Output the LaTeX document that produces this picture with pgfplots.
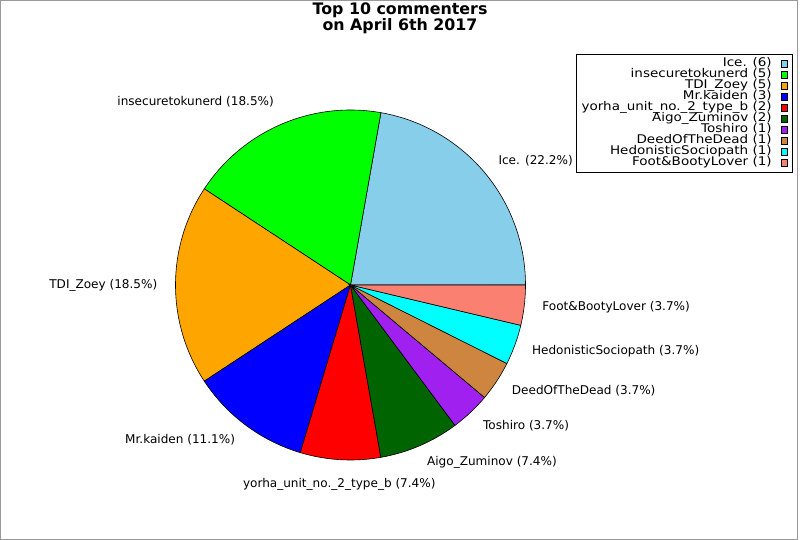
\documentclass[border=0pt]{standalone}
\usepackage{fontspec}
\setmainfont{DejaVu Sans}
\newfontfamily\legfont[FakeStretch=1.13]{DejaVu Sans}
\usepackage{pgfplots}
\pgfplotsset{compat=1.18}
\definecolor{cIce}{HTML}{87CEEB}
\definecolor{cIns}{HTML}{00FF00}
\definecolor{cTDI}{HTML}{FFA500}
\definecolor{cMr}{HTML}{0000FF}
\definecolor{cYor}{HTML}{FF0000}
\definecolor{cAigo}{HTML}{006400}
\definecolor{cTosh}{HTML}{A020F0}
\definecolor{cDeed}{HTML}{CD853F}
\definecolor{cHed}{HTML}{00FFFF}
\definecolor{cFoot}{HTML}{FA8072}
% #1 cumulative count before, #2 count, #3 colour, #4 slice label, #5 legend text, #6 label anchor
\newcommand{\slice}[6]{%
  \addplot[draw=black, line width=0.6bp, fill=#3, domain={360*#1/27}:{360*(#1+#2)/27}, samples=80, variable=\t]
    ({350.5+175*cos(\t)},{255+175*sin(\t)}) -- (axis cs:350.5,255) -- cycle;
  \addlegendentry{#5}
  \node[anchor=#6, inner sep=0pt, font=\fontsize{12.1}{12}\selectfont]
    at (axis cs:{350.5+193*cos(360*(#1+#2/2)/27)},{255+193*sin(360*(#1+#2/2)/27)}) {#4};
}
\begin{document}
\begin{tikzpicture}
\begin{axis}[
  width=800bp, height=540bp, scale only axis,
  xmin=0, xmax=800, ymin=0, ymax=540,
  hide axis, clip=false,
  legend plot pos=right,
  legend cell align=right,
  legend image code/.code={\path (0bp,0bp); \draw[line width=0.5bp] (9.5bp,-3.5bp) rectangle (15.5bp,3.5bp);},
  legend style={at={(0.99125,0.9)}, anchor=north east, draw=black, line width=0.6bp, fill=white,
    inner xsep=5bp, inner ysep=4bp, font=\legfont\fontsize{12}{11}\selectfont,
    nodes={inner sep=0pt, text height=8.5bp, text depth=2.5bp}, row sep=0pt, column sep=0pt},
]
\coordinate (LL) at (axis cs:0,0);
\coordinate (UR) at (axis cs:800,540);
\draw[gray!80, line width=1bp] (axis cs:0.5,0.5) rectangle (axis cs:797,539.5);
\node[font=\bfseries\fontsize{15.9}{14.5}\selectfont, align=center] at (axis cs:400,522) {Top 10 commenters\\on April 6th 2017};
\slice{0}{6}{cIce}{Ice. (22.2\%)}{Ice. (6)}{west}
\slice{6}{5}{cIns}{insecuretokunerd (18.5\%)}{insecuretokunerd (5)}{south east}
\slice{11}{5}{cTDI}{TDI\_Zoey (18.5\%)}{TDI\_Zoey (5)}{east}
\slice{16}{3}{cMr}{Mr.kaiden (11.1\%)}{Mr.kaiden (3)}{east}
\slice{19}{2}{cYor}{yorha\_unit\_no.\_2\_type\_b (7.4\%)}{yorha\_unit\_no.\_2\_type\_b (2)}{north}
\slice{21}{2}{cAigo}{Aigo\_Zuminov (7.4\%)}{Aigo\_Zuminov (2)}{west}
\slice{23}{1}{cTosh}{Toshiro (3.7\%)}{Toshiro (1)}{west}
\slice{24}{1}{cDeed}{DeedOfTheDead (3.7\%)}{DeedOfTheDead (1)}{west}
\slice{25}{1}{cHed}{HedonisticSociopath (3.7\%)}{HedonisticSociopath (1)}{west}
\slice{26}{1}{cFoot}{Foot\&BootyLover (3.7\%)}{Foot\&BootyLover (1)}{west}
\end{axis}
\pgfresetboundingbox
\path (LL) rectangle (UR);
\end{tikzpicture}
\end{document}
